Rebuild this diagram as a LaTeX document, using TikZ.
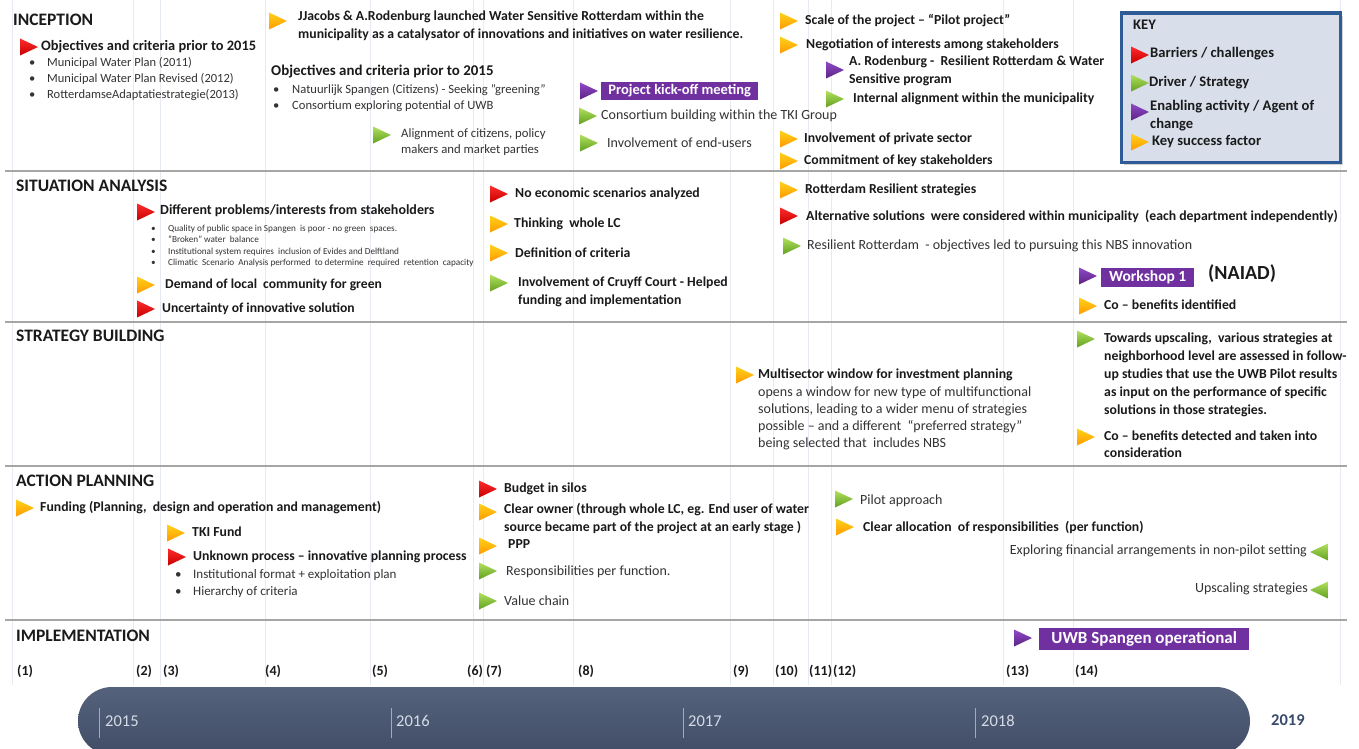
\documentclass[tikz,border=0pt]{standalone}
\usepackage{fontspec}
\setmainfont{Carlito}
\usetikzlibrary{shadows}
\definecolor{txt}{HTML}{1A1A1A}
\definecolor{txtg}{HTML}{333333}
\definecolor{redA}{HTML}{FF2B2B}
\definecolor{redB}{HTML}{C80000}
\definecolor{yelA}{HTML}{FFD21A}
\definecolor{yelB}{HTML}{FF9A00}
\definecolor{grnA}{HTML}{B2E05F}
\definecolor{grnB}{HTML}{62A020}
\definecolor{purA}{HTML}{9149C6}
\definecolor{purB}{HTML}{5A2386}
\definecolor{purp}{HTML}{7030A0}
\definecolor{sepc}{HTML}{A6A6A6}
\definecolor{gridc}{HTML}{E6EBF2}
\definecolor{keyb}{HTML}{2F5C97}
\definecolor{keyf}{HTML}{D8DEEA}
\definecolor{barA}{HTML}{55627C}
\definecolor{barB}{HTML}{414D67}
\definecolor{yr}{HTML}{D5DBE6}
\definecolor{yrd}{HTML}{3A4A6B}
\newcommand{\bltm}[1]{\makebox[#1][l]{\textbullet}}
\tikzset{
  pics/mk/.style={code={\shade[top color=#1A,bottom color=#1B] (0,-8.5) -- (18,0) -- (0,8.5) -- cycle;}},
  pics/mkl/.style={code={\shade[top color=#1A,bottom color=#1B] (0,-8.5) -- (-18,0) -- (0,8.5) -- cycle;}},
  hdr/.style={anchor=west,inner sep=0pt,font=\fontsize{17.5}{20}\selectfont\bfseries,text=txt},
  bt/.style={anchor=west,inner sep=0pt,align=left,font=\fontsize{13.75}{18}\selectfont\bfseries,text=txt},
  rt/.style={anchor=west,inner sep=0pt,align=left,font=\fontsize{14}{17}\selectfont,text=txtg},
  bul/.style={anchor=west,inner sep=0pt,align=left,font=\fontsize{12.5}{16}\selectfont,text=txtg},
  tinyt/.style={anchor=west,inner sep=0pt,align=left,font=\fontsize{9.2}{11.5}\selectfont,text=txtg},
  kt/.style={anchor=west,inner sep=0pt,align=left,font=\fontsize{14.6}{18}\selectfont\bfseries,text=txt},
  pbox/.style={anchor=west,fill=purp,text=white,inner sep=0pt,font=\fontsize{14.5}{16}\selectfont\bfseries},
  lab/.style={anchor=west,inner sep=0pt,font=\fontsize{14}{16}\selectfont\bfseries,text=txt},
  yrl/.style={anchor=west,inner sep=0pt,font=\fontsize{16.5}{18}\selectfont,text=yr},
  sep/.style={draw=sepc,line width=2.5pt},
  grid/.style={draw=gridc,line width=0.8pt},
}
\begin{document}
\begin{tikzpicture}[x=1pt,y=-1pt]
\useasboundingbox (0,0) rectangle (1359,749);
\fill[white] (0,0) rectangle (1359,749);
% faint grid lines
\foreach \gx in {12,133,160,265,370,473,483,573,730,773,808,831,1003,1073,1340}
  \draw[grid] (\gx,0) -- (\gx,685);
% section separators
\foreach \sy in {171,322,466,620}
  \draw[sep] (5,\sy) -- (1347,\sy);

% ---------------- INCEPTION
\node[hdr] (h1) at (13,20) {INCEPTION};
\pic at (20,47) {mk=red};
\node[bt,font=\fontsize{14.4}{16}\selectfont\bfseries] (i1) at (41,47) {Objectives and criteria prior to 2015};
\node[bul] (i1l) at (29,79) {\bltm{18pt}Municipal Water Plan (2011)\\\bltm{18pt}Municipal Water Plan Revised (2012)\\\bltm{18pt}RotterdamseAdaptatiestrategie(2013)};
\pic at (269,21) {mk=yel};
\node[bt] (i2) at (298,26) {JJacobs \& A.Rodenburg launched Water Sensitive Rotterdam within the\\municipality as a catalysator of innovations and initiatives on water resilience.};
\node[bt,font=\fontsize{14.9}{16}\selectfont\bfseries] (i3) at (271,72) {Objectives and criteria prior to 2015};
\node[bul,font=\fontsize{12.6}{16}\selectfont] (i3l) at (273,98) {\bltm{19pt}Natuurlijk Spangen (Citizens) - Seeking "greening"\\\bltm{19pt}Consortium exploring potential of UWB};
\pic at (373,135) {mk=grn};
\node[rt,font=\fontsize{12.75}{16}\selectfont] (i4) at (401,142) {Alignment of citizens, policy\\makers and market parties};
\pic at (580,91) {mk=pur};
\node[pbox,minimum width=157pt,minimum height=18pt] (i5) at (601,91) {Project kick-off meeting};
\pic at (579,116) {mk=grn};
\node[rt] (i6) at (601,116) {Consortium building within the TKI Group};
\pic at (580,143) {mk=grn};
\node[rt] (i7) at (607,143) {Involvement of end-users};
\pic at (780,21) {mk=yel};
\node[bt] (i8) at (805,21) {Scale of the project – “Pilot project”};
\pic at (780,45) {mk=yel};
\node[bt] (i9) at (806,45) {Negotiation of interests among stakeholders};
\pic at (826,70) {mk=pur};
\node[bt] (i10) at (849,70.5) {A. Rodenburg -\ \ Resilient Rotterdam \& Water\\Sensitive program};
\pic at (826,99) {mk=grn};
\node[bt] (i11) at (853,99) {Internal alignment within the municipality};
\pic at (780,139) {mk=yel};
\node[bt] (i12) at (804,139) {Involvement of private sector};
\pic at (780,161) {mk=yel};
\node[bt] (i13) at (804,161) {Commitment of key stakeholders};

% ---------------- KEY
\node[draw=keyb,line width=3.5pt,fill=keyf,minimum width=219pt,minimum height=149pt,anchor=north west,inner sep=0pt,
  drop shadow={shadow xshift=3pt,shadow yshift=-3pt,fill=black!35}] (key) at (1119.5,11.5) {};
\node[kt] (kh) at (1133,25) {KEY};
\pic at (1131,55) {mk=red};
\node[kt] (k1) at (1150,54) {Barriers / challenges};
\pic at (1131,83) {mk=grn};
\node[kt] (k2) at (1149,83) {Driver / Strategy};
\pic at (1131,112) {mk=pur};
\node[kt] (k3) at (1150,116) {Enabling activity / Agent of\\change};
\pic at (1131,142) {mk=yel};
\node[kt] (k4) at (1152,142) {Key success factor};

% ---------------- SITUATION ANALYSIS
\node[hdr] (h2) at (16,186) {SITUATION ANALYSIS};
\pic at (137,212) {mk=red};
\node[bt,font=\fontsize{14}{16}\selectfont\bfseries] (s1) at (160,211) {Different problems/interests from stakeholders};
\node[tinyt] (s1l) at (151,246) {\bltm{17pt}Quality of public space in Spangen\ \ is poor - no green\ \ spaces.\\\bltm{17pt}"Broken" water\ \ balance\\\bltm{17pt}Institutional system requires\ \ inclusion of Evides and Delftland\\\bltm{17pt}Climatic\ \ Scenario\ \ Analysis performed\ \ to determine\ \ required\ \ retention\ \ capacity};
\pic at (137,285) {mk=yel};
\node[bt,font=\fontsize{13.6}{16}\selectfont\bfseries] (s2) at (165,285) {Demand of local\ \ community for green};
\pic at (137,309) {mk=red};
\node[bt,font=\fontsize{13.6}{16}\selectfont\bfseries] (s3) at (162,309) {Uncertainty of innovative solution};
\pic at (490,194) {mk=red};
\node[bt] (s4) at (515,194) {No economic scenarios analyzed};
\pic at (490,224) {mk=yel};
\node[bt] (s5) at (514,224) {Thinking\ \ whole LC};
\pic at (490,253) {mk=yel};
\node[bt] (s6) at (515,253) {Definition of criteria};
\pic at (490,283) {mk=grn};
\node[bt] (s7) at (518,292) {Involvement of Cruyff Court - Helped\\funding and implementation};
\pic at (780,190) {mk=yel};
\node[bt] (s8) at (805,190) {Rotterdam Resilient strategies};
\pic at (780,216) {mk=red};
\node[bt] (s9) at (806,216) {Alternative solutions\ \ were considered within municipality\ \ (each department independently)};
\pic at (783,246) {mk=grn};
\node[rt] (s10) at (807,246) {Resilient Rotterdam\ \ - objectives led to pursuing this NBS innovation};
\pic at (1079,276) {mk=pur};
\node[pbox,font=\fontsize{15.5}{17}\selectfont\bfseries,minimum width=93pt,minimum height=19pt] (s11) at (1101,277) {Workshop 1};
\node[bt,font=\fontsize{20}{22}\selectfont\bfseries] (s12) at (1208,274) {(NAIAD)};
\pic at (1079,306) {mk=yel};
\node[bt] (s13) at (1104,305) {Co – benefits identified};

% ---------------- STRATEGY BUILDING
\node[hdr] (h3) at (16,336) {STRATEGY BUILDING};
\pic at (736,375) {mk=yel};
\node[bt] (b1) at (758,375) {Multisector window for investment planning};
\node[rt] (b2) at (758,418.5) {opens a window for new type of multifunctional\\solutions, leading to a wider menu of strategies\\possible – and a different\ \ “preferred strategy”\\being selected that\ \ includes NBS};
\pic at (1077,339) {mk=grn};
\node[bt] (b3) at (1104,375) {Towards upscaling,\ \ various strategies at\\neighborhood level are assessed in follow-\\up studies that use the UWB Pilot results\\as input on the performance of specific\\solutions in those strategies.};
\pic at (1077,437) {mk=yel};
\node[bt,font=\fontsize{13.75}{17}\selectfont\bfseries] (b4) at (1104,444.5) {Co – benefits detected and taken into\\consideration};

% ---------------- ACTION PLANNING
\node[hdr] (h4) at (16,481) {ACTION PLANNING};
\pic at (16,508) {mk=yel};
\node[bt] (a1) at (40,508) {Funding (Planning,\ \ design and operation and management)};
\pic at (167,533) {mk=yel};
\node[bt] (a2) at (192,532) {TKI Fund};
\pic at (168,557) {mk=red};
\node[bt] (a3) at (193,557) {Unknown process – innovative planning process};
\node[bul,font=\fontsize{13}{17}\selectfont] (a3l) at (175,583.5) {\bltm{18pt}Institutional format + exploitation plan\\\bltm{18pt}Hierarchy of criteria};
\pic at (479,489) {mk=red};
\node[bt] (a4) at (504,489) {Budget in silos};
\pic at (479,512) {mk=yel};
\node[bt] (a5) at (504,519) {Clear owner (through whole LC, eg. End user of water\\source became part of the project at an early stage )};
\pic at (479,546) {mk=yel};
\node[bt] (a6) at (508,544) {PPP};
\pic at (479,571) {mk=grn};
\node[rt] (a7) at (506,572) {Responsibilities per function.};
\pic at (479,601) {mk=grn};
\node[rt] (a8) at (504,601) {Value chain};
\pic at (835,499) {mk=grn};
\node[rt] (a9) at (860,501) {Pilot approach};
\pic at (836,527) {mk=yel};
\node[bt] (a10) at (863,527) {Clear allocation\ \ of responsibilities\ \ (per function)};
\pic at (1328,552) {mkl=grn};
\node[rt,anchor=east] (a11) at (1307,551) {Exploring financial arrangements in non-pilot setting};
\pic at (1328,590) {mkl=grn};
\node[rt,anchor=east] (a12) at (1308,589) {Upscaling strategies};

% ---------------- IMPLEMENTATION
\node[hdr] (h5) at (16,636) {IMPLEMENTATION};
\pic at (1014,638) {mk=pur};
\node[pbox,font=\fontsize{17}{19}\selectfont\bfseries,minimum width=210pt,minimum height=22pt] (m1) at (1039,639) {UWB Spangen operational};

\foreach \lx/\lt [count=\li] in {17/1,136/2,163/3,265/4,372/5,467/6,486/7,578/8,733/9,775/10,809/11,833/12,1006/13,1075/14}
  \node[lab] (n\li) at (\lx,671) {(\lt)};

% ---------------- TIMELINE
\begin{scope}
\clip (0,0) rectangle (1359,749);
\shade[top color=barA,bottom color=barB,rounded corners=34pt] (78,687) rectangle (1250,755);
\end{scope}
\foreach \dx in {99,391,683,975}
  \draw[draw=yr!60!barA,line width=0.8pt] (\dx,708) -- (\dx,738);
\node[yrl] (y15) at (105,721) {2015};
\node[yrl] (y16) at (396,721) {2016};
\node[yrl] (y17) at (688,721) {2017};
\node[yrl] (y18) at (981,721) {2018};
\node[yrl,font=\fontsize{16.5}{18}\selectfont\bfseries,text=yrd] (y19) at (1271,720) {2019};
\end{tikzpicture}
\end{document}
